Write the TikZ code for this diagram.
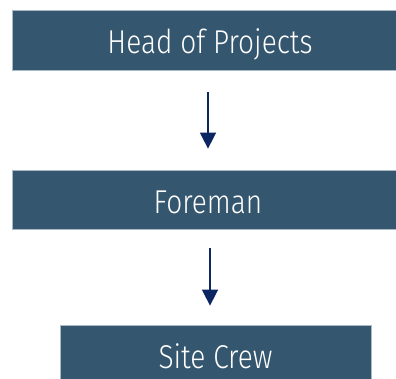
\documentclass[tikz,border=0pt]{standalone}
\usepackage{fontspec}
\setmainfont{Fira Sans Light}[FakeStretch=0.85]
\usetikzlibrary{arrows.meta}
\definecolor{boxfill}{HTML}{35566F}
\definecolor{boxedge}{HTML}{A9B9C8}
\definecolor{arrowcol}{HTML}{0C2661}
\tikzset{
  rolebox/.style={rectangle, fill=boxfill, draw=boxedge, line width=0.8pt,
    inner sep=0pt, minimum height=60pt, text=white,
    font=\fontsize{33}{36}\selectfont, text height=30pt, text depth=3pt},
  flow/.style={draw=arrowcol, line width=1.6pt,
    -{Triangle[width=16pt,length=16pt]}}
}
\begin{document}
\begin{tikzpicture}[x=1pt,y=-1pt]
\useasboundingbox (0,0) rectangle (396,378);
\clip (0,0) rectangle (396,378);
\node[rolebox, minimum width=396pt] (head) at (210,40) {Head of Projects};
\node[rolebox, minimum width=392pt, minimum height=59pt] (fore) at (208,199.5) {Foreman};
\node[rolebox, minimum width=311pt] (crew) at (215.5,355) {Site Crew};
% reporting lines, each leaving a gap to the boxes it joins
\draw[flow, shorten <=22pt, shorten >=21pt] ([xshift=-2pt]head.south) -- (fore.north);
\draw[flow, shorten <=19pt, shorten >=19pt] ([xshift=2pt]fore.south) -- ([xshift=-5.5pt]crew.north);
\end{tikzpicture}
\end{document}
